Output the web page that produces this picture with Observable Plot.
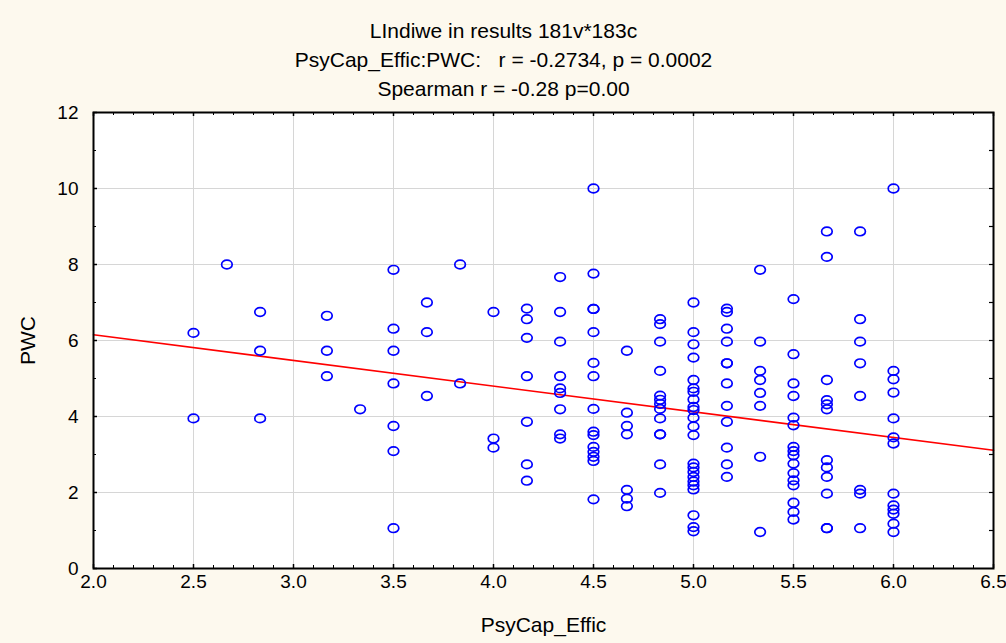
<!DOCTYPE html>
<html><head><meta charset="utf-8">
<script src="https://cdn.jsdelivr.net/npm/d3@7"></script>
<script src="https://cdn.jsdelivr.net/npm/@observablehq/plot@0.6"></script>
<style>html,body{margin:0;padding:0;background:#fdf9ee;overflow:hidden;}</style>
</head><body><div id="chart"></div>
<script>
// ---- data ----
const titleLines = ["LIndiwe in results 181v*183c", "PsyCap_Effic:PWC:   r = -0.2734, p = 0.0002", "Spearman r = -0.28 p=0.00"];
const xLabel = "PsyCap_Effic";
const yLabel = "PWC";
const xTickValues = [2.0, 2.5, 3.0, 3.5, 4.0, 4.5, 5.0, 5.5, 6.0, 6.5];
const yTickValues = [0, 2, 4, 6, 8, 10, 12];
const psycapLevels = [2.5, 2.667, 2.833, 3.167, 3.333, 3.5, 3.667, 3.833, 4.0, 4.167, 4.333, 4.5, 4.667, 4.833, 5.0, 5.167, 5.333, 5.5, 5.667, 5.833, 6.0];
const pwcAtLevel = [
  [6.2, 3.95],
  [8.0],
  [6.75, 5.73, 3.95],
  [6.65, 5.73, 5.06],
  [4.19],
  [7.86, 6.31, 5.73, 4.87, 3.75, 3.09, 1.06],
  [7.0, 6.22, 4.54],
  [8.0, 4.87],
  [6.75, 3.42, 3.18],
  [6.84, 6.56, 6.07, 5.06, 3.86, 2.74, 2.31],
  [7.67, 6.75, 5.97, 5.06, 4.74, 4.62, 4.19, 3.53, 3.42],
  [10, 7.76, 6.83, 6.83, 6.22, 5.41, 5.06, 4.2, 3.6, 3.51, 3.2, 3.07, 2.94, 2.83, 1.82],
  [5.73, 4.1, 3.75, 3.53, 2.07, 1.84, 1.64],
  [6.56, 6.43, 5.97, 5.2, 4.55, 4.44, 4.33, 4.2, 3.95, 3.53, 3.53, 2.74, 1.99],
  [7.0, 6.22, 5.9, 5.55, 4.96, 4.74, 4.65, 4.45, 4.25, 4.17, 3.97, 3.74, 3.51, 2.76, 2.66, 2.54, 2.41, 2.29, 2.19, 2.08, 1.4, 1.09, 0.98],
  [6.84, 6.75, 6.31, 5.97, 5.4, 5.4, 4.87, 4.28, 3.86, 3.18, 2.74, 2.41],
  [7.86, 5.97, 5.2, 4.96, 4.62, 4.28, 2.94, 0.96],
  [7.09, 5.64, 4.87, 4.54, 3.97, 3.77, 3.2, 3.09, 2.98, 2.76, 2.51, 2.32, 2.19, 1.73, 1.49, 1.29],
  [8.87, 8.2, 4.96, 4.43, 4.32, 4.19, 2.85, 2.66, 2.41, 1.97, 1.06, 1.06],
  [8.87, 6.56, 5.97, 5.4, 4.54, 2.07, 1.97, 1.06],
  [10, 5.2, 4.98, 4.63, 3.95, 3.45, 3.29, 1.97, 1.66, 1.55, 1.44, 1.18, 0.96]
];
// fitted regression line as drawn (ends at the axis limits)
const fitX = [2.0, 6.5];
const fitY = [6.15, 3.11];

// ---- build tables ----
const points = psycapLevels.flatMap((x, i) => pwcAtLevel[i].map(y => ({x, y})));
const fit = fitX.map((x, i) => ({x, y: fitY[i]}));
const xMinor = d3.range(20, 66).filter(i => i % 5 !== 0).map(i => i / 10);
const yMinor = [1, 3, 5, 7, 9, 11];
const yRight = d3.range(1, 12);
const xGrid = xTickValues.slice(1, -1);
const yGrid = yTickValues.slice(1, -1);

const W = 1006, H = 643, ML = 93, MR = 13, MT = 112, MB = 75;
const PH = H - MT - MB, PW = W - ML - MR;
const TICK_FS = 19, TITLE_FS = 21;

// slightly wide ellipse marker, like the original
const ellipse = {
  draw(ctx, size) {
    const r = Math.sqrt(size / Math.PI);
    const rx = r * 1.06, ry = r * 0.86, k = 0.5523;
    ctx.moveTo(rx, 0);
    ctx.bezierCurveTo(rx, ry * k, rx * k, ry, 0, ry);
    ctx.bezierCurveTo(-rx * k, ry, -rx, ry * k, -rx, 0);
    ctx.bezierCurveTo(-rx, -ry * k, -rx * k, -ry, 0, -ry);
    ctx.bezierCurveTo(rx * k, -ry, rx, -ry * k, rx, 0);
    ctx.closePath();
  }
};

const chart = Plot.plot({
  width: W, height: H,
  marginLeft: ML, marginRight: MR, marginTop: MT, marginBottom: MB,
  style: {background: "#fdf9ee", fontFamily: "'Liberation Sans', Arial, sans-serif", fontSize: TICK_FS + "px", color: "#000", overflow: "visible"},
  x: {domain: [2, 6.5], axis: null},
  y: {domain: [0, 12], axis: null},
  marks: [
    Plot.frame({fill: "#ffffff"}),
    Plot.ruleX(xGrid, {stroke: "#d6d6d6", strokeWidth: 1}),
    Plot.ruleY(yGrid, {stroke: "#d6d6d6", strokeWidth: 1}),
    Plot.line(fit, {x: "x", y: "y", stroke: "#ff0000", strokeWidth: 1.6}),
    Plot.dot(points, {x: "x", y: "y", r: 5, symbol: ellipse, stroke: "#0000ff", strokeWidth: 1.7, fill: "none"}),
    // inward ticks: bottom & top
    Plot.tickX(xTickValues, {insetTop: PH - 4, stroke: "#000", strokeWidth: 1.5}),
    Plot.tickX(xMinor, {insetTop: PH - 3, stroke: "#000", strokeWidth: 1}),
    Plot.tickX(xTickValues, {insetBottom: PH - 4, stroke: "#000", strokeWidth: 1.5}),
    Plot.tickX(xMinor, {insetBottom: PH - 3, stroke: "#000", strokeWidth: 1}),
    // inward ticks: left & right
    Plot.tickY(yTickValues, {insetRight: PW - 4, stroke: "#000", strokeWidth: 1.5}),
    Plot.tickY(yMinor, {insetRight: PW - 3, stroke: "#000", strokeWidth: 1}),
    Plot.tickY(yRight, {insetLeft: PW - 4, stroke: "#000", strokeWidth: 1.2}),
    Plot.frame({stroke: "#000", strokeWidth: 2}),
    // tick labels positioned through the scales
    Plot.text(xTickValues, {x: d => d, text: d3.format(".1f"), frameAnchor: "bottom", dy: 13, lineAnchor: "middle", fontSize: TICK_FS}),
    Plot.text(yTickValues, {y: d => d, text: d => String(d), frameAnchor: "left", dx: -15, textAnchor: "end", lineAnchor: "middle", fontSize: TICK_FS}),
    Plot.text([titleLines[0]], {frameAnchor: "top", dx: -40, dy: 31 - MT, lineAnchor: "middle", fontSize: TITLE_FS}),
    Plot.text([titleLines[1]], {frameAnchor: "top", dx: -40, dy: 60 - MT, lineAnchor: "middle", fontSize: TITLE_FS}),
    Plot.text([titleLines[2]], {frameAnchor: "top", dx: -40, dy: 89 - MT, lineAnchor: "middle", fontSize: TITLE_FS}),
    Plot.text([xLabel], {frameAnchor: "bottom", dy: 625 - (H - MB), lineAnchor: "middle", fontSize: TITLE_FS}),
    Plot.text([yLabel], {frameAnchor: "left", dx: 28 - ML, rotate: -90, lineAnchor: "middle", textAnchor: "middle", fontSize: TITLE_FS})
  ]
});
document.getElementById("chart").appendChild(chart);
</script>
</body></html>
